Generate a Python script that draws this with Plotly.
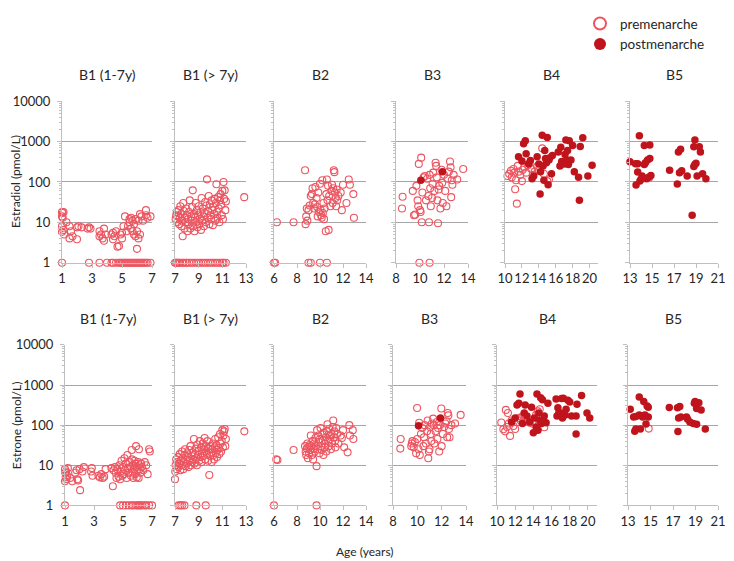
"""Estradiol and estrone by age, split by breast stage (B1-B5), pre/post menarche."""
import plotly.graph_objects as go

# ---- Estradiol (top row) -------------------------------------------------
E2_B1A_PRE_X = [1.0, 1.0, 1.05, 1.1, 1.0, 1.05, 1.0, 1.1, 1.0, 1.15, 1.3, 1.5, 1.6, 1.7, 1.5,
                2.0, 2.1, 2.0, 2.3, 2.7, 2.8, 2.9, 2.8, 3.5, 3.6, 3.5, 3.7, 3.8, 3.9, 3.8, 3.5,
                4.0, 4.3, 4.4, 4.5, 4.4, 4.6, 4.7, 4.8, 4.9, 5.0, 5.0, 5.1, 5.2, 5.3, 5.4, 5.5,
                5.5, 5.6, 5.6, 5.7, 5.7, 5.8, 5.8, 5.9, 5.9, 6.0, 6.0, 6.1, 6.1, 6.2, 6.3, 6.2,
                6.4, 6.6, 6.6, 6.7, 6.9,
                4.3, 4.4, 4.6, 4.8, 4.9, 5.0, 5.1, 5.2, 5.3, 5.4, 5.5, 5.6, 5.7, 5.8, 5.9, 6.0,
                6.1, 6.2, 6.3, 6.4, 6.5, 6.6, 6.7, 6.9]
E2_B1A_PRE_Y = [1, 18, 17, 18, 14, 13, 8, 6.5, 5.8, 5, 10, 8, 6, 4.5, 4,
                7.5, 8, 3.8, 7.5, 7, 7.5, 7, 1, 6, 5, 4.5, 4, 7, 5, 3.5, 1,
                1, 5, 5.5, 4.5, 3.8, 6, 2.5, 2.6, 5, 5.5, 4, 8, 14, 6, 8, 12,
                10, 13, 7, 6, 11, 9, 5, 12, 4.5, 2.2, 6, 4, 11, 16, 14, 5,
                11, 20, 15, 13, 14,
                1, 1, 1, 1, 1, 1, 1, 1, 1, 1, 1, 1, 1, 1, 1, 1,
                1, 1, 1, 1, 1, 1, 1, 1]

E2_B1B_PRE_X = [7.0, 7.1, 7.2, 7.3, 7.4, 7.6, 7.7, 7.9, 8.0, 8.2, 8.4, 8.6, 8.8, 9.0, 9.2,
                9.4, 9.6, 9.8, 10.0, 10.2, 10.4, 10.6, 10.8, 11.0, 11.1, 11.3,
                7.05, 7.1, 7.15, 7.2, 7.25, 7.3, 7.35, 7.4, 7.45, 7.5, 7.55, 7.6, 7.65, 7.7,
                7.75, 7.8, 7.85, 7.9, 7.95, 8.0, 8.05, 8.1, 8.15, 8.2, 8.25, 8.3, 8.35, 8.4,
                8.45, 8.5, 8.55, 8.6, 8.65, 8.7, 8.75, 8.8, 8.85, 8.9, 8.95, 9.0, 9.05, 9.1,
                9.15, 9.2, 9.25, 9.3, 9.35, 9.4, 9.45, 9.5, 9.55, 9.6, 9.65, 9.7, 9.75, 9.8,
                9.85, 9.9, 9.95, 10.0, 10.05, 10.1, 10.15, 10.2, 10.25, 10.3, 10.35, 10.4,
                10.45, 10.5, 10.55, 10.6, 10.65, 10.7, 10.75, 10.8, 10.85, 10.9, 10.95, 11.0,
                11.05, 11.1, 11.15, 11.2, 11.25, 11.3, 12.85]
E2_B1B_PRE_Y = [1, 1, 1, 1, 1, 1, 1, 1, 1, 1, 1, 1, 1, 1, 1,
                1, 1, 1, 1, 1, 1, 1, 1, 1, 1, 1,
                12, 15, 18, 10, 14, 20, 9, 13, 25, 16, 8, 11, 4.5, 30,
                19, 7, 13, 10, 22, 15, 6, 12, 9, 18, 35, 7, 14, 11,
                24, 62, 8, 16, 6, 13, 30, 10, 20, 7.5, 15, 25, 9, 12,
                18, 6.5, 40, 11, 22, 14, 8, 17, 32, 10, 26, 116, 13, 19,
                45, 9, 28, 15, 12, 35, 20, 8.5, 24, 16, 38, 11,
                30, 88, 18, 13, 42, 22, 10, 35, 50, 27, 15, 60,
                12, 100, 38, 62, 20, 33, 42]

E2_B2_PRE_X = [6.0, 6.1, 9.0, 9.2, 10.0, 10.6,
               6.25, 7.7, 8.7, 8.75, 8.8, 8.85, 8.9, 9.0, 9.1, 9.2, 9.3, 9.35, 9.4, 9.5,
               9.55, 9.6, 9.7, 9.75, 9.8, 9.85, 9.9, 10.0, 10.05, 10.1, 10.15, 10.2, 10.25,
               10.3, 10.35, 10.4, 10.5, 10.55, 10.6, 10.65, 10.7, 10.75, 10.8, 10.9, 11.0,
               11.05, 11.1, 11.15, 11.2, 11.25, 11.3, 11.35, 11.4, 11.45, 11.5, 11.6, 11.8,
               11.9, 12.0, 12.3, 12.5, 12.6, 12.9, 12.95]
E2_B2_PRE_Y = [1, 1, 1, 1, 1, 1,
               10, 10, 195, 9, 14, 22, 11, 20, 26, 45, 50, 70, 30, 22,
               28, 75, 40, 24, 14, 55, 18, 90, 20, 15, 13, 110, 17,
               30, 12, 22, 6, 50, 115, 35, 80, 6.5, 45, 25, 60,
               85, 30, 70, 195, 175, 55, 40, 25, 65, 35, 45, 55,
               20, 85, 30, 115, 85, 50, 13]

E2_B3_PRE_X = [9.95, 10.8, 8.55, 8.5, 9.4, 9.5, 9.6, 9.7, 9.8, 9.85, 9.9, 10.0, 10.05, 10.1,
               10.15, 10.2, 10.3, 10.4, 10.5, 10.6, 10.7, 10.75, 10.8, 10.85, 10.9, 11.0,
               11.05, 11.1, 11.2, 11.3, 11.35, 11.4, 11.45, 11.5, 11.55, 11.6, 11.7, 11.8,
               11.85, 11.9, 12.0, 12.1, 12.2, 12.3, 12.4, 12.5, 12.55, 12.6, 12.65, 12.7,
               12.8, 13.1, 13.6]
E2_B3_PRE_Y = [1, 1, 43, 22, 60, 15, 15.5, 80, 35, 25, 280, 20, 18, 400,
               10, 55, 130, 140, 35, 120, 45, 10, 150, 70, 25, 40,
               90, 170, 60, 300, 250, 130, 35, 9.5, 65, 80, 22, 200,
               95, 30, 150, 60, 25, 120, 180, 320, 230, 42, 110, 85,
               150, 115, 210]
E2_B3_POST_X = [10.07, 11.87]
E2_B3_POST_Y = [110, 180]

E2_B4_PRE_X = [10.3, 10.5, 10.7, 10.8, 11.0, 11.1, 11.2, 11.3, 11.4, 11.5, 11.6, 11.8, 12.0,
               12.1, 12.3, 12.5, 12.7, 12.9, 13.1, 13.3, 13.5, 13.8, 14.0, 14.4, 14.6, 15.0,
               15.2]
E2_B4_PRE_Y = [140, 160, 190, 130, 210, 170, 66, 110, 29, 250, 180, 150, 105,
               200, 230, 170, 260, 290, 210, 150, 180, 240, 200, 680, 160, 105,
               115]
E2_B4_POST_X = [11.6, 12.0, 12.2, 12.4, 12.5, 12.8, 13.0, 13.2, 13.4, 13.8, 14.0, 14.15, 14.2,
                14.4, 14.5, 14.6, 14.7, 14.8, 14.9, 15.0, 15.1, 15.2, 15.3, 15.5, 15.6, 16.3,
                16.5, 16.6, 16.7, 17.0, 17.1, 17.2, 17.3, 17.4, 17.5, 17.6, 17.8, 18.0, 18.2,
                18.7, 18.8, 18.9, 19.2, 19.8, 20.3]
E2_B4_POST_Y = [420, 330, 880, 1050, 500, 280, 340, 120, 140, 420, 280, 50, 180,
                1440, 250, 110, 600, 380, 300, 1270, 85, 350, 400, 160, 450, 550,
                250, 720, 320, 280, 480, 1100, 350, 600, 270, 1050, 350, 800, 180,
                130, 35, 760, 1250, 140, 260]

E2_B5_PRE_X = [14.74]
E2_B5_PRE_Y = [127]
E2_B5_POST_X = [13.0, 13.5, 13.7, 13.85, 13.7, 14.0, 14.1, 13.55, 13.9, 14.3, 14.8, 14.4, 14.6,
                14.8, 14.3, 14.5, 14.7, 14.9, 16.6, 17.3, 17.4, 17.6, 17.5, 17.7, 18.2, 18.65,
                18.8, 18.9, 18.9, 18.8, 19.3, 19.4, 19.0, 19.1, 19.6, 19.9]
E2_B5_POST_Y = [316, 281, 281, 1400, 177, 116, 140, 84, 105, 800, 820, 300, 350,
                380, 270, 120, 130, 145, 195, 89, 550, 650, 170, 190, 140, 15,
                240, 270, 1100, 750, 750, 550, 290, 140, 160, 120]

# ---- Estrone (bottom row) ------------------------------------------------
E1_B1A_PRE_X = [1.0, 4.8, 5.0, 5.2, 5.4, 5.6, 5.7, 5.9, 6.0, 6.1, 6.2, 6.3, 6.5, 6.6, 6.8, 7.0,
                1.0, 1.02, 1.05, 1.08, 1.1, 1.0, 1.15, 1.2, 1.35, 1.5, 1.7, 1.8, 1.85, 1.9,
                2.0, 2.04, 2.2, 2.3, 2.8, 2.85, 2.9, 3.3, 3.4, 3.5, 3.6, 3.7, 3.8, 4.2, 4.3,
                4.35, 4.45, 4.5, 4.55, 4.6, 4.7, 4.75, 4.8, 4.85, 4.9, 4.95, 5.0, 5.05, 5.1,
                5.15, 5.2, 5.25, 5.3, 5.35, 5.4, 5.45, 5.5, 5.55, 5.6, 5.62, 5.65, 5.7, 5.72,
                5.75, 5.8, 5.82, 5.85, 5.9, 5.92, 5.95, 6.0, 6.05, 6.08, 6.1, 6.12, 6.15,
                6.2, 6.25, 6.3, 6.4, 6.5, 6.6, 6.7, 6.8, 6.85]
E1_B1A_PRE_Y = [1, 1, 1, 1, 1, 1, 1, 1, 1, 1, 1, 1, 1, 1, 1, 1,
                8, 6.5, 5, 7, 4.5, 4, 5.5, 8.5, 4.8, 4, 6.5, 7.5, 4.5, 4.2,
                8, 2.4, 7, 9, 7, 8.5, 5.5, 5.5, 5, 6, 4.8, 5.2, 8, 8.5, 3,
                7.5, 9, 6.5, 4.8, 8, 5.2, 10, 4.5, 7, 13, 5.5, 9, 6, 15,
                7.5, 11, 4.8, 18, 8.5, 6.5, 12, 9, 5.5, 24, 14, 7, 10, 4.8,
                8, 13, 6, 11, 30, 9, 5, 7.5, 12, 4.8, 25, 10, 8,
                6.5, 11, 9, 7.5, 12, 10, 6, 25, 22]

E1_B1B_PRE_X = [7.3, 7.45, 7.6, 7.8, 8.8, 9.6,
                7.0, 7.02, 7.05, 7.1, 7.15, 7.2, 7.25, 7.3, 7.35, 7.4, 7.45, 7.5, 7.55, 7.6,
                7.65, 7.7, 7.75, 7.8, 7.85, 7.9, 7.95, 8.0, 8.05, 8.1, 8.15, 8.2, 8.25, 8.3,
                8.35, 8.4, 8.45, 8.5, 8.55, 8.6, 8.65, 8.7, 8.75, 8.8, 8.85, 8.9, 8.95, 9.0,
                9.05, 9.1, 9.15, 9.2, 9.25, 9.3, 9.35, 9.4, 9.45, 9.5, 9.55, 9.6, 9.65, 9.7,
                9.75, 9.8, 9.85, 9.9, 9.95, 10.0, 10.05, 10.1, 10.15, 10.2, 10.25, 10.3,
                10.35, 10.4, 10.45, 10.5, 10.55, 10.6, 10.65, 10.7, 10.75, 10.8, 10.85, 10.9,
                10.95, 11.0, 11.05, 11.1, 11.15, 11.2, 11.25, 11.3, 12.86]
E1_B1B_PRE_Y = [1, 1, 1, 1, 1, 1,
                4.5, 7, 10, 14, 8, 12, 16, 9, 11, 19, 7.5, 13, 10, 22,
                15, 8, 12, 18, 25, 9.5, 14, 11, 20, 16, 9, 24, 13, 30,
                10, 17, 12, 21, 14, 45, 11, 19, 26, 15, 10, 33, 18, 23,
                13, 40, 16, 28, 12, 20, 35, 17, 25, 48, 14, 30, 22, 19,
                40, 13, 26, 5.7, 17, 30, 21, 12, 25, 35, 18, 14,
                28, 45, 20, 32, 16, 24, 50, 27, 19, 60, 35, 22,
                40, 75, 28, 55, 70, 80, 30, 45, 70]

E1_B2_PRE_X = [6.0, 9.7, 6.2, 6.3, 7.7, 8.7, 8.75, 8.8, 8.85, 8.9, 8.95, 9.0, 9.05, 9.1, 9.15,
               9.2, 9.25, 9.3, 9.35, 9.4, 9.45, 9.5, 9.55, 9.6, 9.65, 9.7, 9.75, 9.8, 9.85,
               9.9, 9.95, 10.0, 10.05, 10.1, 10.15, 10.2, 10.25, 10.3, 10.35, 10.4, 10.45,
               10.5, 10.55, 10.6, 10.65, 10.7, 10.75, 10.8, 10.85, 10.9, 10.95, 11.0, 11.05,
               11.1, 11.15, 11.2, 11.25, 11.3, 11.35, 11.4, 11.5, 11.6, 11.8, 11.9, 12.0,
               12.1, 12.4, 12.55, 12.6, 12.85, 12.9]
E1_B2_PRE_Y = [1, 1, 14, 13.5, 24, 30, 22, 18, 26, 35, 15, 28, 20, 32, 24,
               55, 30, 18, 40, 14, 26, 35, 22, 48, 30, 9.5, 75, 25, 55,
               38, 20, 45, 85, 30, 24, 60, 42, 18, 65, 35, 28,
               50, 22, 70, 105, 40, 30, 80, 55, 45, 25, 60, 35,
               90, 130, 50, 70, 40, 28, 85, 60, 35, 55, 48, 75,
               28, 21, 100, 55, 75, 45]

E1_B3_PRE_X = [8.63, 8.6, 9.5, 9.55, 9.6, 9.7, 9.8, 9.9, 9.98, 10.0, 10.1, 10.15, 10.2, 10.3,
               10.4, 10.5, 10.55, 10.6, 10.7, 10.8, 10.85, 10.9, 10.95, 11.0, 11.05, 11.1,
               11.15, 11.2, 11.3, 11.35, 11.4, 11.5, 11.6, 11.65, 11.7, 11.8, 11.85, 11.97,
               12.0, 12.1, 12.2, 12.3, 12.4, 12.45, 12.5, 12.55, 12.6, 12.65, 12.8, 13.1,
               13.56]
E1_B3_PRE_Y = [45, 26, 30, 35, 40, 28, 38, 20, 267, 45, 25, 115, 18, 60,
               85, 30, 50, 100, 35, 70, 130, 15, 22, 25, 90, 60,
               40, 110, 145, 100, 35, 70, 120, 45, 85, 22, 100, 260,
               30, 60, 90, 110, 125, 50, 200, 175, 80, 50, 100, 110,
               180]
E1_B3_POST_X = [10.1, 11.9]
E1_B3_POST_Y = [96, 150]

E1_B4_PRE_X = [10.47, 10.7, 10.9, 10.97, 11.1, 11.2, 11.3, 11.44, 11.6, 11.8, 12.0, 12.2, 12.4,
               12.6, 12.7, 12.9, 13.0, 13.1, 13.3, 13.6, 13.9, 14.3, 14.5, 14.7, 15.2]
E1_B4_PRE_Y = [116, 79, 70, 240, 90, 200, 110, 54, 130, 95, 80, 120, 150,
               130, 160, 170, 140, 160, 130, 115, 110, 180, 220, 250, 89]
E1_B4_POST_X = [11.6, 12.0, 12.2, 12.4, 12.53, 12.8, 13.0, 13.1, 13.3, 13.6, 13.8, 14.0, 14.1,
                14.3, 14.4, 14.5, 14.6, 14.7, 14.8, 14.9, 15.0, 15.1, 15.2, 15.4, 15.6, 16.5,
                16.6, 16.7, 16.8, 17.0, 17.1, 17.2, 17.3, 17.5, 17.6, 17.8, 18.0, 18.2, 18.7,
                18.7, 18.8, 19.3, 19.9, 20.2]
E1_B4_POST_Y = [120, 150, 320, 350, 600, 110, 200, 320, 170, 120, 280, 65, 150,
                90, 600, 75, 200, 130, 480, 110, 430, 130, 170, 115, 350, 450,
                170, 270, 200, 200, 460, 150, 470, 180, 250, 420, 380, 170, 170,
                60, 330, 550, 200, 150]

E1_B5_PRE_X = [14.84]
E1_B5_PRE_Y = [82]
E1_B5_POST_X = [13.2, 13.5, 13.7, 13.6, 13.7, 14.0, 14.0, 14.1, 14.2, 14.3, 14.4, 14.5, 14.6,
                14.7, 14.8, 14.8, 16.67, 17.4, 17.44, 17.6, 17.5, 17.7, 18.2, 18.3, 18.5, 18.8,
                18.9, 18.96, 19.1, 19.1, 19.3, 19.5, 19.87]
E1_B5_POST_Y = [250, 160, 165, 70, 80, 500, 180, 80, 170, 160, 390, 180, 107,
                300, 280, 160, 275, 270, 69, 290, 150, 160, 160, 140, 120, 110,
                350, 390, 260, 105, 360, 240, 80]

PANEL_TITLES = ["B1 (1-7y)", "B1 (> 7y)", "B2", "B3", "B4", "B5"]
X_RANGES = [(1, 7), (7, 13), (6, 14), (8, 14), (10, 21), (13, 21)]
X_TICKS = [[1, 3, 5, 7], [7, 9, 11, 13], [6, 8, 10, 12, 14], [8, 10, 12, 14],
           [10, 12, 14, 16, 18, 20], [13, 15, 17, 19, 21]]
Y_TICKS = [1, 10, 100, 1000, 10000]
ROW_LABELS = ["Estradiol (pmol/L)", "Estrone (pmol/L)"]

PANELS = [
    [(E2_B1A_PRE_X, E2_B1A_PRE_Y, None, None),
     (E2_B1B_PRE_X, E2_B1B_PRE_Y, None, None),
     (E2_B2_PRE_X, E2_B2_PRE_Y, None, None),
     (E2_B3_PRE_X, E2_B3_PRE_Y, E2_B3_POST_X, E2_B3_POST_Y),
     (E2_B4_PRE_X, E2_B4_PRE_Y, E2_B4_POST_X, E2_B4_POST_Y),
     (E2_B5_PRE_X, E2_B5_PRE_Y, E2_B5_POST_X, E2_B5_POST_Y)],
    [(E1_B1A_PRE_X, E1_B1A_PRE_Y, None, None),
     (E1_B1B_PRE_X, E1_B1B_PRE_Y, None, None),
     (E1_B2_PRE_X, E1_B2_PRE_Y, None, None),
     (E1_B3_PRE_X, E1_B3_PRE_Y, E1_B3_POST_X, E1_B3_POST_Y),
     (E1_B4_PRE_X, E1_B4_PRE_Y, E1_B4_POST_X, E1_B4_POST_Y),
     (E1_B5_PRE_X, E1_B5_PRE_Y, E1_B5_POST_X, E1_B5_POST_Y)],
]

# the page body keeps its default 8px margin, so the figure starts 8px in;
# every layout position below is given in page pixels and shifted back
W, H, BODY = 734, 561, 8
PRE_COLOR = "#EC5560"
POST_COLOR = "#C0141C"
FONT = "Lato, 'Open Sans', sans-serif"
TEXT = "#262626"

# plot-area boxes in page pixels: per row, x extents of each panel, and top/bottom
COL_PX = [
    [(62, 152), (175, 246), (274, 366), (396, 468), (505, 598), (630, 718)],
    [(65, 152), (175, 246), (274, 366), (393, 466), (497, 597), (628, 718)],
]
ROW_PX = [(91, 256), (340, 504)]

# log minor ticks 2..9 in each decade
MINOR = [k * 10 ** d for d in range(4) for k in range(2, 10)]


def px_x(px):
    return (px - BODY) / W


def px_y(py):
    return 1 - (py - BODY) / H


fig = go.Figure()
layout = {}
annotations = []
shown = set()

for r, row in enumerate(PANELS):
    top, bot = ROW_PX[r]
    for c, (px, py, qx, qy) in enumerate(row):
        i = r * 6 + c + 1
        xa, ya = ("x", "y") if i == 1 else (f"x{i}", f"y{i}")
        l, rr = COL_PX[r][c]

        fig.add_trace(go.Scatter(
            x=px, y=py, mode="markers", xaxis=xa, yaxis=ya,
            name="premenarche", legendgroup="pre",
            showlegend="pre" not in shown, cliponaxis=False,
            marker=dict(symbol="circle-open", size=7, color=PRE_COLOR,
                        line=dict(width=1.1, color=PRE_COLOR)),
        ))
        shown.add("pre")
        if qx:
            fig.add_trace(go.Scatter(
                x=qx, y=qy, mode="markers", xaxis=xa, yaxis=ya,
                name="postmenarche", legendgroup="post",
                showlegend="post" not in shown, cliponaxis=False,
                marker=dict(symbol="circle", size=7.5, color=POST_COLOR),
            ))
            shown.add("post")

        key = "" if i == 1 else str(i)
        layout[f"xaxis{key}"] = dict(
            domain=[px_x(l), px_x(rr)], anchor=ya, range=list(X_RANGES[c]),
            tickvals=X_TICKS[c], tickangle=0, showgrid=False, zeroline=False,
            automargin=False, showline=True, linecolor="#bfbfbf", linewidth=1,
            ticks="outside", ticklen=4, tickcolor="#bfbfbf",
            tickfont=dict(size=13, color=TEXT, family=FONT),
        )
        layout[f"yaxis{key}"] = dict(
            domain=[px_y(bot), px_y(top)], anchor=xa, type="log", range=[0, 4],
            tickvals=Y_TICKS, ticktext=[str(v) for v in Y_TICKS], automargin=False,
            showticklabels=(c == 0), showgrid=True, gridcolor="#a6a6a6", gridwidth=1,
            zeroline=False, showline=True, linecolor="#bfbfbf", linewidth=1,
            ticks="outside", ticklen=4, tickcolor="#bfbfbf", ticklabelstandoff=4,
            minor=dict(tickvals=MINOR, ticks="outside", ticklen=2,
                       tickcolor="#bfbfbf", showgrid=False),
            tickfont=dict(size=13, color=TEXT, family=FONT),
        )

        annotations.append(dict(
            text=PANEL_TITLES[c], x=px_x((l + rr) / 2), y=px_y(top - 27),
            xref="paper", yref="paper", showarrow=False,
            xanchor="center", yanchor="middle",
            font=dict(size=14, color=TEXT, family=FONT),
        ))

    annotations.append(dict(
        text=ROW_LABELS[r], x=px_x(16), y=px_y((top + bot) / 2),
        xref="paper", yref="paper", showarrow=False, textangle=-90,
        xanchor="center", yanchor="middle",
        font=dict(size=12, color=TEXT, family=FONT),
    ))

annotations.append(dict(
    text="Age (years)", x=px_x(365), y=px_y(551), xref="paper", yref="paper",
    showarrow=False, xanchor="center", yanchor="middle",
    font=dict(size=12, color=TEXT, family=FONT),
))

fig.update_layout(
    width=W, height=H,
    margin=dict(l=0, r=0, t=0, b=0),
    plot_bgcolor="white", paper_bgcolor="white",
    showlegend=True,
    legend=dict(x=px_x(580), y=px_y(-4), xanchor="left", yanchor="top",
                font=dict(size=13.5, color=TEXT, family=FONT),
                bgcolor="rgba(0,0,0,0)", itemsizing="constant", tracegroupgap=0),
    annotations=annotations,
    **layout,
)

fig.write_html("out.html")
